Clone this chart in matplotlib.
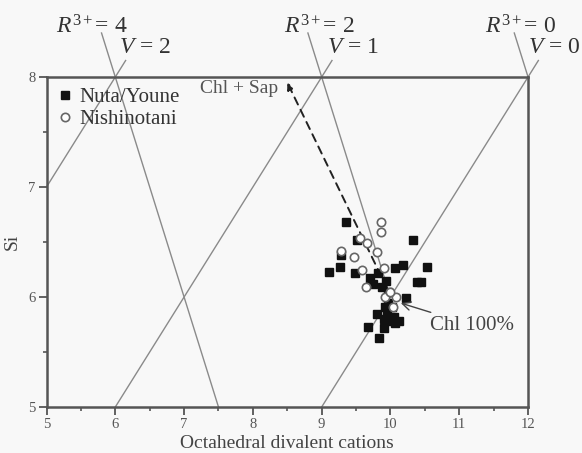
import matplotlib
matplotlib.use('Agg')
import matplotlib.pyplot as plt
from matplotlib.ticker import MultipleLocator

plt.rcParams['font.family'] = ['Liberation Serif', 'DejaVu Serif']
plt.rcParams['mathtext.fontset'] = 'custom'
plt.rcParams['mathtext.rm'] = 'Liberation Serif'
plt.rcParams['mathtext.it'] = 'Liberation Serif:italic'

# Nuta/Youne samples (octahedral divalent cations, Si)
nuta_x = [9.36, 9.52, 10.33, 9.10, 9.26, 9.48, 9.82, 9.70, 10.07, 10.18,
          10.53, 10.38, 10.45, 9.87, 9.96, 10.23, 9.28, 9.92, 10.02, 9.95,
          10.05, 9.90, 10.00, 10.12, 9.81, 9.67, 9.84, 9.91, 10.07, 9.75,
          9.93, 9.97]
nuta_si = [6.68, 6.52, 6.52, 6.23, 6.27, 6.22, 6.22, 6.17, 6.26, 6.29,
           6.27, 6.14, 6.14, 6.09, 6.05, 5.99, 6.38, 5.91, 5.91, 5.85,
           5.82, 5.80, 5.78, 5.78, 5.85, 5.73, 5.63, 5.72, 5.76, 6.12,
           6.15, 5.95]

# Nishinotani samples
nishi_x = [9.86, 9.86, 9.55, 9.66, 9.81, 9.28, 9.47, 9.58, 9.90, 9.65,
           9.92, 10.08, 10.04, 10.00]
nishi_si = [6.68, 6.59, 6.54, 6.49, 6.41, 6.42, 6.36, 6.25, 6.26, 6.09,
            6.00, 6.00, 5.91, 6.05]

# reference lines: Si = x + offset for vacancy V, Si = c - 2x for R3+
v_offsets = {2: 2, 1: -1, 0: -4}
r_consts = {4: 20, 2: 26, 0: 32}
v_top = 8.15
r_top = 8.40

chl100 = (10.0, 6.0)

line_col = '#8a8a8a'
axis_col = '#555555'
bg = '#f8f8f8'

fig = plt.figure(figsize=(5.82, 4.53), dpi=100, facecolor=bg)
ax = fig.add_axes([0.0799, 0.1015, 0.8274, 0.7285], facecolor=bg)
ax.set_xlim(5, 12)
ax.set_ylim(5, 8)

# V lines (slope +1)
for v, off in v_offsets.items():
    x0 = max(5, 5 - off)
    x1 = v_top - off
    ax.plot([x0, x1], [x0 + off, v_top], color=line_col, lw=1.0,
            clip_on=False, zorder=1)
# R3+ lines (slope -2)
for r, c in r_consts.items():
    xa = (c - r_top) / 2
    if r == 4:
        xb = (c - 5) / 2
    elif r == 2:
        xb = chl100[0]
    else:
        xb = 12
    ax.plot([xa, xb], [r_top, c - 2 * xb], color=line_col, lw=1.0,
            clip_on=False, zorder=1)

lab_kw = dict(fontsize=17, color='#333333', va='center', ha='left')
ax.text(5.14, 8.46, r'$R^{3+}$= 4', **lab_kw)
ax.text(8.45, 8.46, r'$R^{3+}$= 2', **lab_kw)
ax.text(11.37, 8.46, r'$R^{3+}$= 0', **lab_kw)
ax.text(6.05, 8.27, r'$V$ = 2', **lab_kw)
ax.text(9.08, 8.27, r'$V$ = 1', **lab_kw)
ax.text(12.0, 8.27, r'$V$ = 0', **lab_kw)

ax.plot(nuta_x, nuta_si, 's', ms=6, color='#111111', mec='#111111',
        label='Nuta/Youne', zorder=3)
ax.plot(nishi_x, nishi_si, 'o', ms=6, mfc='white', mec='#666666', mew=1.2,
        label='Nishinotani', zorder=4)

# mixing trend towards saponite
ax.annotate('', xy=(8.5, 7.95), xytext=(9.95, 6.08),
            arrowprops=dict(arrowstyle='-|>', color='#222222', lw=1.4,
                            linestyle=(0, (4, 3)), mutation_scale=10,
                            shrinkA=0, shrinkB=0), zorder=2)
ax.text(7.23, 7.90, 'Chl + Sap', fontsize=14, color='#555555',
        ha='left', va='center')

ax.annotate('Chl 100%', xy=(10.15, 5.945), xytext=(10.57, 5.745),
            fontsize=15, color='#444444', ha='left', va='center',
            arrowprops=dict(arrowstyle='->', color='#444444', lw=1.0,
                            shrinkA=1, shrinkB=0))

ax.legend(loc='upper left', bbox_to_anchor=(0.021, 0.968), frameon=False,
          fontsize=15, borderpad=0, borderaxespad=0, handlelength=0.8,
          handletextpad=0.3, labelspacing=0.12, labelcolor='#333333')

for s in ax.spines.values():
    s.set_color(axis_col)
    s.set_linewidth(1.8)

ax.xaxis.set_major_locator(MultipleLocator(1))
ax.xaxis.set_minor_locator(MultipleLocator(0.5))
ax.yaxis.set_major_locator(MultipleLocator(1))
ax.yaxis.set_minor_locator(MultipleLocator(0.5))
ax.tick_params(which='major', direction='out', length=6, width=1.3,
               color=axis_col, labelsize=10.5, labelcolor='#555555', pad=2)
ax.tick_params(which='minor', direction='out', length=3, width=1.2,
               color=axis_col)

ax.set_xlabel('Octahedral divalent cations', fontsize=14, color='#444444',
              labelpad=3)
ax.set_ylabel('Si', fontsize=14, color='#444444', labelpad=5)

fig.savefig('out.png', dpi=100, facecolor=bg)
